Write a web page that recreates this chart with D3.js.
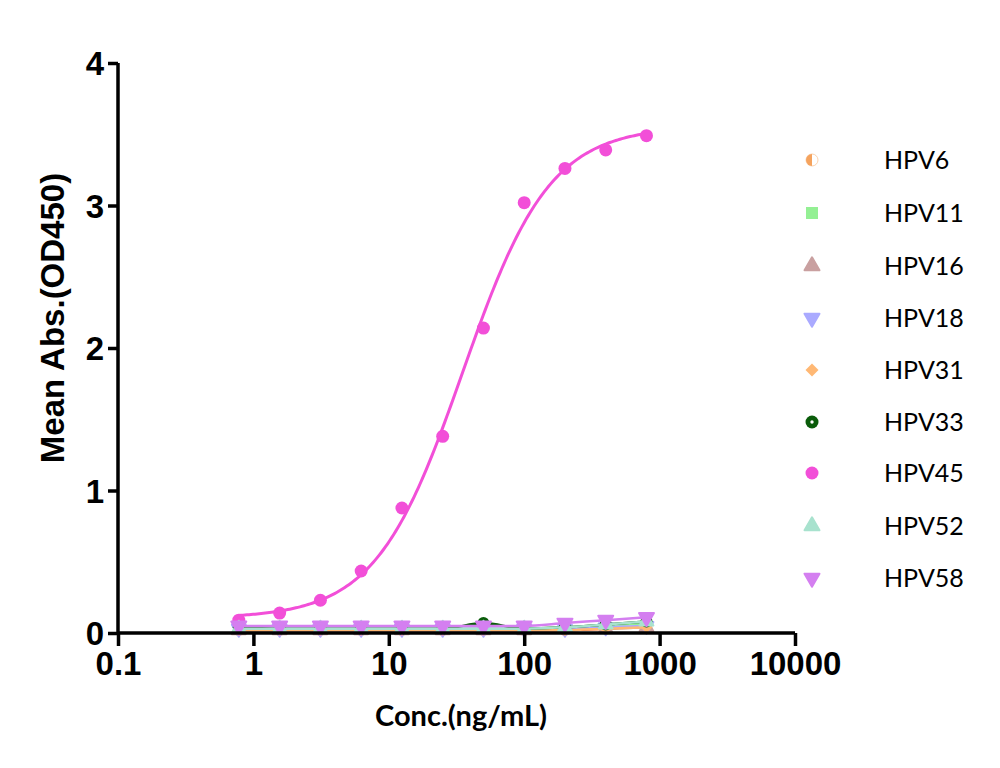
<!DOCTYPE html>
<html><head><meta charset="utf-8">
<script src="https://cdn.jsdelivr.net/npm/d3@7"></script>
<style>body{margin:0;background:#fff}svg{display:block}</style>
</head><body>
<svg id="c" width="1000" height="768"></svg>
<script>
const conc = [0.78, 1.5625, 3.125, 6.25, 12.5, 25, 50, 100, 200, 400, 800];
const seriesNames = ["HPV6","HPV11","HPV16","HPV18","HPV31","HPV33","HPV45","HPV52","HPV58"];
const hpv6  = [0.02,0.02,0.02,0.02,0.02,0.02,0.02,0.02,0.02,0.03,0.05];
const hpv11 = [0.03,0.03,0.03,0.03,0.03,0.03,0.03,0.03,0.04,0.05,0.07];
const hpv16 = [0.02,0.02,0.02,0.02,0.02,0.02,0.02,0.02,0.03,0.03,0.04];
const hpv18 = [0.03,0.03,0.03,0.03,0.03,0.03,0.03,0.03,0.03,0.04,0.05];
const hpv31 = [0.02,0.02,0.02,0.02,0.02,0.02,0.02,0.02,0.02,0.03,0.04];
const hpv33 = [0.04,0.03,0.03,0.03,0.03,0.03,0.07,0.03,0.04,0.06,0.08];
const hpv45 = [0.09,0.14,0.23,0.435,0.877,1.38,2.14,3.02,3.26,3.39,3.49];
const hpv52 = [0.03,0.03,0.03,0.03,0.03,0.03,0.03,0.03,0.04,0.06,0.08];
const hpv58 = [0.05,0.05,0.05,0.05,0.05,0.05,0.05,0.05,0.07,0.09,0.11];
const xTicks = [0.1, 1, 10, 100, 1000, 10000];
const xTickLabels = ["0.1","1","10","100","1000","10000"];
const yTicks = [0,1,2,3,4];

const values = [hpv6,hpv11,hpv16,hpv18,hpv31,hpv33,hpv45,hpv52,hpv58];
const style = [
  {shape:"half",  fill:"#F5A35E", line:"#F04A20", size:9},
  {shape:"square",fill:"#94F094", line:"#94F094", size:9},
  {shape:"tri",   fill:"#C9A0A0", line:"#C9A0A0", size:9},
  {shape:"dtri",  fill:"#AAAAFF", line:"#AAAAFF", size:9},
  {shape:"diamond",fill:"#FFB874",line:"#FFB874", size:9},
  {shape:"ring",  fill:"#0A5C0A", line:"#0A5C0A", size:9},
  {shape:"circle",fill:"#F24FD8", line:"#F24FD8", size:10},
  {shape:"tri",   fill:"#A8E2CE", line:"#A8E2CE", size:9},
  {shape:"dtri",  fill:"#D47FF0", line:"#D47FF0", size:10}
];

const svg = d3.select("#c");
const x = d3.scaleLog().domain([0.1, 10000]).range([118, 795]);
const y = d3.scaleLinear().domain([0, 4]).range([633, 63]);

function drawMarker(g, s, cx, cy, sz) {
  const r = (sz || s.size)/2 + 1.5;
  if (s.shape === "circle") {
    g.append("circle").attr("cx",cx).attr("cy",cy).attr("r",r).attr("fill",s.fill);
  } else if (s.shape === "ring") {
    g.append("circle").attr("cx",cx).attr("cy",cy).attr("r",r).attr("fill",s.fill);
    g.append("circle").attr("cx",cx).attr("cy",cy).attr("r",1.7).attr("fill","#fff");
  } else if (s.shape === "half") {
    g.append("circle").attr("cx",cx).attr("cy",cy).attr("r",r-0.5).attr("fill","#fff").attr("stroke","#FAD3B0").attr("stroke-width",1);
    g.append("path").attr("d",`M${cx},${cy-r+0.5} A${r-0.5},${r-0.5} 0 0 0 ${cx},${cy+r-0.5} Z`).attr("fill",s.fill);
  } else if (s.shape === "diamond") {
    g.append("path").attr("d", d3.symbol().type(d3.symbolSquare).size(2*r*r)())
      .attr("transform", `translate(${cx},${cy}) rotate(45)`).attr("fill", s.fill);
  } else {
    const sym = s.shape==="square" ? d3.symbolSquare : d3.symbolTriangle;
    const area = s.shape==="square" ? (2*r-1)*(2*r-1) : r*r*2.3;
    g.append("path").attr("d", d3.symbol().type(sym).size(area)())
      .attr("transform", `translate(${cx},${cy})` + (s.shape==="dtri" ? " rotate(180)" : ""))
      .attr("fill", s.fill).attr("stroke", s.fill).attr("stroke-width", s.shape.includes("tri")?2:0).attr("stroke-linejoin","round");
  }
}

// 4-parameter logistic fit of the HPV45 points (Nelder-Mead least squares)
function fourPL(p, c) { return p[0] + (p[1]-p[0]) / (1 + Math.pow(Math.pow(10,p[2]) / c, p[3])); }
function sse(p) { return d3.sum(conc, (c,j) => (fourPL(p,c)-hpv45[j])**2); }
function nelderMead(f, x0) {
  const n = x0.length;
  let simplex = [x0.slice()];
  for (let i=0;i<n;i++){ const v=x0.slice(); v[i]+= (v[i]===0?0.1:Math.abs(v[i])*0.1); simplex.push(v); }
  let fv = simplex.map(f);
  for (let it=0; it<4000; it++) {
    const idx = d3.range(n+1).sort((a,b)=>fv[a]-fv[b]);
    simplex = idx.map(i=>simplex[i]); fv = idx.map(i=>fv[i]);
    const cen = d3.range(n).map(k => d3.mean(simplex.slice(0,n), v=>v[k]));
    const xr = cen.map((c,k)=> c + (c - simplex[n][k])); const fr = f(xr);
    if (fr < fv[0]) {
      const xe = cen.map((c,k)=> c + 2*(c - simplex[n][k])); const fe = f(xe);
      if (fe < fr) { simplex[n]=xe; fv[n]=fe; } else { simplex[n]=xr; fv[n]=fr; }
    } else if (fr < fv[n-1]) { simplex[n]=xr; fv[n]=fr; }
    else {
      const xc = cen.map((c,k)=> c + 0.5*(simplex[n][k]-c)); const fc = f(xc);
      if (fc < fv[n]) { simplex[n]=xc; fv[n]=fc; }
      else { for (let i=1;i<=n;i++){ simplex[i]=simplex[i].map((v,k)=> simplex[0][k]+0.5*(v-simplex[0][k])); fv[i]=f(simplex[i]); } }
    }
  }
  return simplex[0];
}
const fitP = nelderMead(sse, [0.1, 3.6, Math.log10(35), 1.4]);

// series
const line = d3.line().x(d=>x(d[0])).y(d=>y(d[1])).curve(d3.curveMonotoneX);
const lineSmooth = d3.line().x(d=>x(d[0])).y(d=>y(d[1]));
values.forEach((vals, i) => {
  const s = style[i];
  const pts = conc.map((c, j) => [c, vals[j]]);
  const g = svg.append("g");
  if (i === 6) {
    const lo = Math.log10(conc[0]), hi = Math.log10(conc[conc.length-1]);
    const curve = d3.range(0, 201).map(k => { const c = Math.pow(10, lo + (hi-lo)*k/200); return [c, fourPL(fitP, c)]; });
    g.append("path").attr("d", lineSmooth(curve)).attr("fill","none").attr("stroke", s.line).attr("stroke-width",3);
  } else {
    g.append("path").attr("d", line(pts)).attr("fill","none").attr("stroke", s.line).attr("stroke-width",2.5);
  }
  pts.forEach(p => drawMarker(g, s, x(p[0]), y(p[1])));
});

// axes
const tickFont = "'Liberation Sans Narrow','Liberation Sans',Arial,sans-serif";
const xAxis = svg.append("g").attr("transform","translate(0,633)")
  .call(d3.axisBottom(x).tickValues(xTicks).tickFormat((d,i)=>xTickLabels[i]).tickSize(13).tickPadding(6));
const yAxis = svg.append("g").attr("transform","translate(118,0)")
  .call(d3.axisLeft(y).tickValues(yTicks).tickFormat(d3.format("d")).tickSize(10).tickPadding(4));
[xAxis, yAxis].forEach(a => {
  a.select(".domain").attr("stroke","#000").attr("stroke-width",3.5);
  a.selectAll(".tick line").attr("stroke","#000").attr("stroke-width",3.5);
  a.selectAll(".tick text").attr("fill","#000").style("font-family",tickFont).style("font-weight","bold").style("font-size","33px");
});
xAxis.select(".domain").attr("d", `M118,0H795`);
yAxis.select(".domain").attr("d", `M0,${y(0)}V${y(4)}`);
yAxis.selectAll(".tick text").attr("dy","0.36em");

// titles
svg.append("text").attr("x",461).attr("y",726).attr("text-anchor","middle")
  .style("font-family","Lato,'Open Sans',sans-serif").style("font-weight","bold").style("font-size","29px")
  .text("Conc.(ng/mL)");
svg.append("text").attr("transform","translate(64,318) rotate(-90)").attr("text-anchor","middle")
  .style("font-family","'Liberation Sans',Arial,sans-serif").style("font-weight","bold").style("font-size","33px")
  .text("Mean Abs.(OD450)");

// legend
const legY = [160,213,266,318,370,422,473,526,578];
seriesNames.forEach((name, i) => {
  const g = svg.append("g");
  drawMarker(g, style[i], 812, legY[i], 10);
  g.append("text").attr("x",884).attr("y",legY[i]).attr("dy","0.36em")
    .style("font-family","Lato,'Noto Sans',sans-serif").style("font-size","25px").attr("fill","#000")
    .text(name);
});
</script>
</body></html>
